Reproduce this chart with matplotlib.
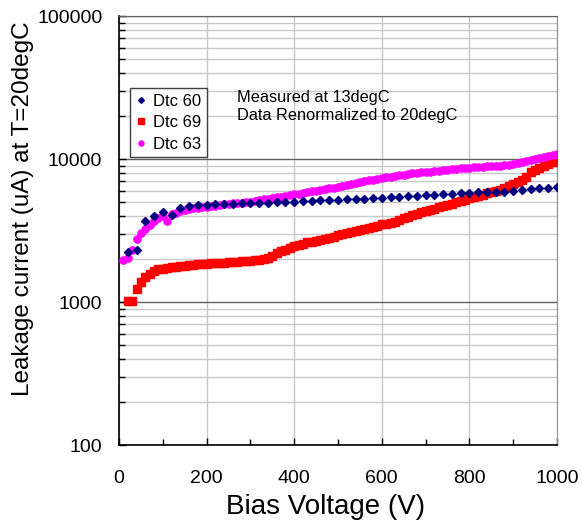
import numpy as np
import matplotlib
matplotlib.use('Agg')
import matplotlib.pyplot as plt
from matplotlib.ticker import FixedLocator, NullFormatter

plt.rcParams['font.family'] = ['Liberation Sans', 'DejaVu Sans']

'''
data read off the picture
'''
# Dtc 60 (navy diamonds)
v60 = [20, 40, 60, 80, 100, 120, 140, 160, 180, 200,
       220, 240, 260, 280, 300, 320, 340, 360, 380, 400,
       420, 440, 460, 480, 500, 520, 540, 560, 580, 600,
       620, 640, 660, 680, 700, 720, 740, 760, 780, 800,
       820, 840, 860, 880, 900, 920, 940, 960, 980, 1000]
i60 = [2250, 2300, 3700, 4000, 4280, 4050, 4520, 4700, 4760, 4800,
       4830, 4860, 4880, 4900, 4900, 4920, 4950, 4980, 5010, 5040,
       5070, 5100, 5130, 5160, 5190, 5220, 5260, 5290, 5330, 5370,
       5400, 5450, 5500, 5540, 5580, 5620, 5660, 5700, 5750, 5800,
       5840, 5880, 5880, 5900, 5960, 6050, 6150, 6250, 6300, 6400]

# Dtc 69 (red squares)
v69 = list(range(20, 1001, 10))
i69 = [1020, 1020, 1230, 1390, 1500, 1580, 1650, 1690, 1710, 1730,
       1750, 1765, 1780, 1795, 1810, 1825, 1835, 1845, 1855, 1865,
       1870, 1875, 1885, 1895, 1905, 1915, 1925, 1935, 1950, 1965,
       1975, 2000, 2040, 2100, 2200, 2280, 2330, 2380, 2450, 2520,
       2560, 2610, 2650, 2690, 2720, 2770, 2820, 2870, 2930, 2990,
       3050, 3100, 3150, 3200, 3250, 3310, 3360, 3420, 3490, 3530,
       3570, 3650, 3760, 3860, 3950, 4040, 4130, 4230, 4320, 4410,
       4500, 4600, 4700, 4790, 4880, 4980, 5080, 5200, 5310, 5420,
       5530, 5640, 5750, 5860, 5970, 6070, 6250, 6450, 6700, 6900,
       7100, 7500, 8100, 8400, 8700, 9000, 9300, 9600, 9950]

# Dtc 63 (magenta circles)
v63 = list(range(10, 1001, 10))
i63 = [1960, 2020, 2300, 2740, 3060, 3250, 3480, 3700, 3850, 3990,
       3700, 4100, 4200, 4300, 4380, 4450, 4510, 4560, 4610, 4650,
       4690, 4730, 4770, 4810, 4850, 4890, 4920, 4960, 5000, 5040,
       5100, 5160, 5220, 5280, 5340, 5400, 5470, 5530, 5600, 5660,
       5720, 5790, 5860, 5930, 6000, 6080, 6150, 6230, 6320, 6410,
       6500, 6590, 6680, 6770, 6860, 6980, 7100, 7190, 7280, 7360,
       7440, 7520, 7610, 7700, 7780, 7870, 7940, 8000, 8060, 8120,
       8180, 8240, 8300, 8360, 8420, 8480, 8540, 8600, 8660, 8720,
       8760, 8800, 8840, 8870, 8900, 8930, 8960, 9050, 9150, 9250,
       9350, 9500, 9650, 9800, 9950, 10100, 10300, 10500, 10700, 10800]

xticks = [0, 200, 400, 600, 800, 1000]
yticks = [100, 1000, 10000, 100000]
ytick_labels = ['100', '1000', '10000', '100000']

'''
plot
'''
fig = plt.figure(figsize=(5.82, 5.23), dpi=100)
ax = fig.add_axes([0.2045, 0.149, 0.7525, 0.8204])

ax.plot(v60, i60, 'D', color='#000080', ms=4.2, mec='#000080', label='Dtc 60', zorder=5)
ax.plot(v69, i69, 's', color='#ff0000', ms=5.4, mec='#ff0000', label='Dtc 69', zorder=3)
ax.plot(v63, i63, 'o', color='#ff00ff', ms=5.2, mec='#ff00ff', label='Dtc 63', zorder=4)

ax.set_yscale('log')
ax.set_xlim(0, 1000)
ax.set_ylim(100, 100000)

ax.set_xticks(xticks)
ax.set_xticklabels([str(t) for t in xticks])
ax.xaxis.set_minor_locator(FixedLocator([100, 300, 500, 700, 900]))
ax.set_yticks(yticks)
ax.set_yticklabels(ytick_labels)
minor_y = [m * 10 ** e for e in range(2, 5) for m in range(2, 10)]
ax.yaxis.set_minor_locator(FixedLocator(minor_y))
ax.yaxis.set_minor_formatter(NullFormatter())

ax.tick_params(axis='both', which='major', direction='in', length=5, width=1,
               labelsize=14, top=False, right=False)
ax.tick_params(axis='y', which='major', pad=12)
ax.tick_params(axis='x', which='major', pad=18)
ax.tick_params(axis='both', which='minor', direction='in', length=4, width=1,
               top=False, right=False)

# grid
ax.grid(axis='x', which='major', color='#c8c8c8', lw=1.0)
ax.grid(axis='y', which='minor', color='#c8c8c8', lw=1.0)
ax.grid(axis='y', which='major', color='#606060', lw=1.0)
ax.set_axisbelow(True)

for s in ['left', 'bottom']:
    ax.spines[s].set_color('black')
    ax.spines[s].set_linewidth(1.2)
ax.spines['top'].set_color('#606060')
ax.spines['right'].set_color('#909090')

ax.set_xlabel('Bias Voltage (V)', fontsize=20)
ax.xaxis.set_label_coords(0.4726, -0.114)
ax.xaxis.label.set_va('top')
ax.set_ylabel('Leakage current (uA) at T=20degC', fontsize=17.5)
ax.yaxis.set_label_coords(-0.194, 0.552)

leg = ax.legend(loc='upper left', bbox_to_anchor=(0.0244, 0.832), borderaxespad=0,
                fontsize=12, markerscale=0.7, handlelength=0.7, handletextpad=0.35,
                labelspacing=0.38, borderpad=0.35, fancybox=False, framealpha=1)
leg.get_frame().set_edgecolor('#404040')
leg.get_frame().set_linewidth(1.0)

ax.text(0.269, 0.810, 'Measured at 13degC', transform=ax.transAxes,
        fontsize=11.8, va='center', ha='left')
ax.text(0.269, 0.767, 'Data Renormalized to 20degC', transform=ax.transAxes,
        fontsize=11.8, va='center', ha='left')

plt.savefig('out.png', dpi=100)
